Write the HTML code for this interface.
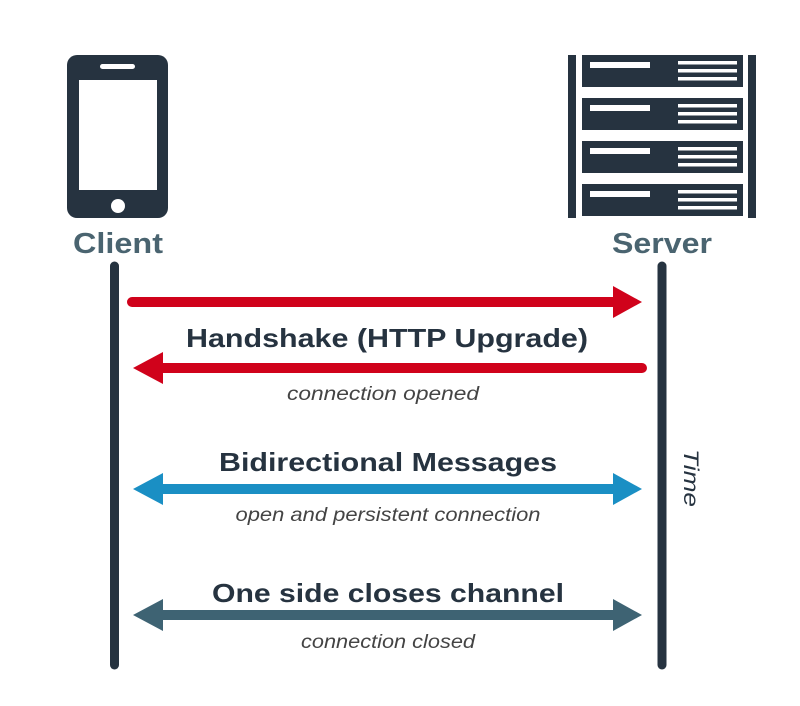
<!DOCTYPE html>
<html><head><meta charset="utf-8"><style>
html,body{margin:0;padding:0;background:#fff;}
svg{display:block;}
</style></head><body>
<svg width="800" height="706" viewBox="0 0 800 706" xmlns="http://www.w3.org/2000/svg">
<rect width="800" height="706" fill="#fff"/>
<!-- Phone -->
<rect x="67" y="55" width="101" height="163" rx="10" fill="#263340"/>
<rect x="79" y="80" width="78" height="110" fill="#fff"/>
<rect x="100" y="64" width="35" height="5" rx="2.5" fill="#fff"/>
<circle cx="118" cy="206" r="7" fill="#fff"/>
<text x="118" y="253" text-anchor="middle" font-family="Liberation Sans, sans-serif" font-size="29" font-weight="bold" fill="#4a6470" textLength="90" lengthAdjust="spacingAndGlyphs">Client</text>
<!-- Server -->
<rect x="568" y="55" width="8" height="163" fill="#263340"/>
<rect x="748" y="55" width="8" height="163" fill="#263340"/>
<g fill="#263340">
<rect x="582" y="55" width="161" height="32"/>
<rect x="582" y="98" width="161" height="32"/>
<rect x="582" y="141" width="161" height="32"/>
<rect x="582" y="184" width="161" height="32"/>
</g>
<g fill="#fff">
<rect x="590" y="62" width="60" height="6"/><rect x="678" y="61" width="59" height="3.5"/><rect x="678" y="69" width="59" height="3.5"/><rect x="678" y="77" width="59" height="3.5"/>
<rect x="590" y="105" width="60" height="6"/><rect x="678" y="104" width="59" height="3.5"/><rect x="678" y="112" width="59" height="3.5"/><rect x="678" y="120" width="59" height="3.5"/>
<rect x="590" y="148" width="60" height="6"/><rect x="678" y="147" width="59" height="3.5"/><rect x="678" y="155" width="59" height="3.5"/><rect x="678" y="163" width="59" height="3.5"/>
<rect x="590" y="191" width="60" height="6"/><rect x="678" y="190" width="59" height="3.5"/><rect x="678" y="198" width="59" height="3.5"/><rect x="678" y="206" width="59" height="3.5"/>
</g>
<text x="662" y="253" text-anchor="middle" font-family="Liberation Sans, sans-serif" font-size="29" font-weight="bold" fill="#4a6470" textLength="100" lengthAdjust="spacingAndGlyphs">Server</text>
<!-- Lifelines -->
<line x1="114.5" y1="266" x2="114.5" y2="665" stroke="#263340" stroke-width="9" stroke-linecap="round"/>
<line x1="662" y1="266" x2="662" y2="665" stroke="#263340" stroke-width="9" stroke-linecap="round"/>
<!-- Red arrow right -->
<line x1="132" y1="302" x2="616" y2="302" stroke="#d0021b" stroke-width="10" stroke-linecap="round"/>
<polygon points="613,286 642,302 613,318" fill="#d0021b"/>
<text x="387" y="347" text-anchor="middle" font-family="Liberation Sans, sans-serif" font-size="26" font-weight="bold" fill="#263340" textLength="402" lengthAdjust="spacingAndGlyphs">Handshake (HTTP Upgrade)</text>
<!-- Red arrow left -->
<line x1="160" y1="368" x2="642" y2="368" stroke="#d0021b" stroke-width="10" stroke-linecap="round"/>
<polygon points="163,352 133,368 163,384" fill="#d0021b"/>
<text x="383" y="400" text-anchor="middle" font-family="Liberation Sans, sans-serif" font-size="19" font-style="italic" fill="#444" textLength="192" lengthAdjust="spacingAndGlyphs">connection opened</text>
<!-- Blue -->
<text x="388" y="471" text-anchor="middle" font-family="Liberation Sans, sans-serif" font-size="26" font-weight="bold" fill="#263340" textLength="338" lengthAdjust="spacingAndGlyphs">Bidirectional Messages</text>
<line x1="160" y1="489" x2="616" y2="489" stroke="#1a8fc4" stroke-width="10"/>
<polygon points="163,473 133,489 163,505" fill="#1a8fc4"/>
<polygon points="613,473 642,489 613,505" fill="#1a8fc4"/>
<text x="388" y="521" text-anchor="middle" font-family="Liberation Sans, sans-serif" font-size="19" font-style="italic" fill="#444" textLength="305" lengthAdjust="spacingAndGlyphs">open and persistent connection</text>
<!-- Teal -->
<text x="388" y="602" text-anchor="middle" font-family="Liberation Sans, sans-serif" font-size="26" font-weight="bold" fill="#263340" textLength="352" lengthAdjust="spacingAndGlyphs">One side closes channel</text>
<line x1="160" y1="615" x2="616" y2="615" stroke="#3e6373" stroke-width="10"/>
<polygon points="163,599 133,615 163,631" fill="#3e6373"/>
<polygon points="613,599 642,615 613,631" fill="#3e6373"/>
<text x="388" y="648" text-anchor="middle" font-family="Liberation Sans, sans-serif" font-size="19" font-style="italic" fill="#444" textLength="174" lengthAdjust="spacingAndGlyphs">connection closed</text>
<!-- Time -->
<text transform="translate(684,449) rotate(90)" x="0" y="0" font-family="Liberation Sans, sans-serif" font-size="21" font-style="italic" fill="#263340" textLength="58" lengthAdjust="spacingAndGlyphs">Time</text>
</svg>
</body></html>
